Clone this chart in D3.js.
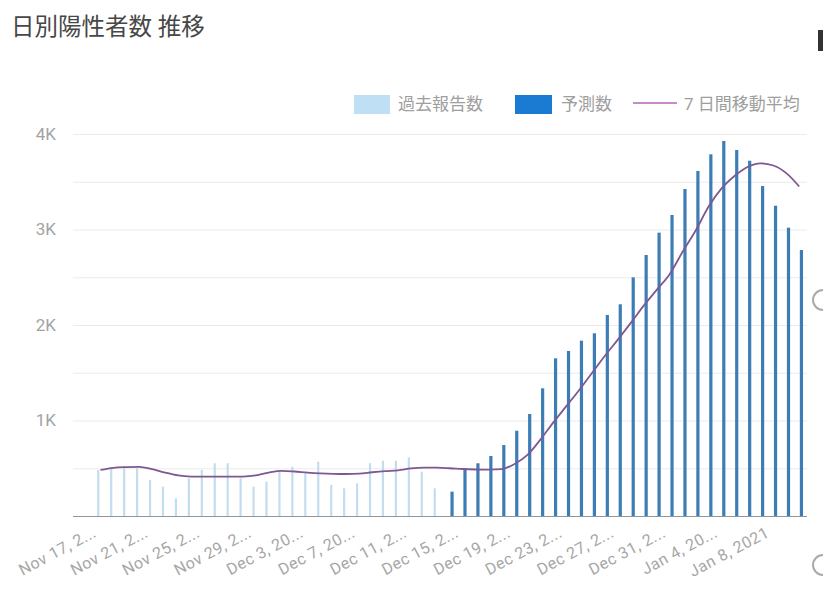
<!DOCTYPE html>
<html><head><meta charset="utf-8">
<script src="https://cdn.jsdelivr.net/npm/d3@7"></script>
<style>
html,body{margin:0;padding:0;background:#fff;}
svg{display:block;}
</style></head>
<body>
<svg id="chart" width="823" height="605"></svg>
<script>
const title = "日別陽性者数 推移";
const seriesNames = ["過去報告数", "予測数", "7 日間移動平均"];

const dates = [
  "2020-11-17","2020-11-18","2020-11-19","2020-11-20","2020-11-21","2020-11-22","2020-11-23",
  "2020-11-24","2020-11-25","2020-11-26","2020-11-27","2020-11-28","2020-11-29","2020-11-30",
  "2020-12-01","2020-12-02","2020-12-03","2020-12-04","2020-12-05","2020-12-06","2020-12-07",
  "2020-12-08","2020-12-09","2020-12-10","2020-12-11","2020-12-12","2020-12-13","2020-12-14",
  "2020-12-15","2020-12-16","2020-12-17","2020-12-18","2020-12-19","2020-12-20","2020-12-21",
  "2020-12-22","2020-12-23","2020-12-24","2020-12-25","2020-12-26","2020-12-27","2020-12-28",
  "2020-12-29","2020-12-30","2020-12-31","2021-01-01","2021-01-02","2021-01-03","2021-01-04",
  "2021-01-05","2021-01-06","2021-01-07","2021-01-08","2021-01-09","2021-01-10"
];

// 過去報告数 (Nov 17 - Dec 13)
const pastReported = [482, 500, 516, 500, 377, 307, 185, 395, 482, 552, 552, 395, 307, 360,
  482, 516, 447, 569, 325, 290, 342, 552, 579, 579, 614, 464, 290];

// 予測数 (Dec 14 - Jan 10)
const predicted = [255, 500, 552, 628, 743, 893, 1068, 1337, 1651, 1728, 1836, 1913, 2105, 2217,
  2499, 2733, 2967, 3152, 3424, 3613, 3787, 3927, 3832, 3720, 3455, 3249, 3019, 2785];

// 7 日間移動平均 (all dates)
const movingAvg = [482, 505, 512, 515, 490, 455, 425, 413, 412, 412, 412, 413, 425, 455,
  473, 466, 455, 447, 442, 440, 443, 458, 470, 478, 498, 506, 506, 500,
  492, 487, 485, 490, 545, 640, 800, 980, 1150, 1320, 1500, 1680, 1850, 2025,
  2205, 2370, 2535, 2770, 2990, 3240, 3430, 3560, 3655, 3693, 3670, 3590, 3450];

const tickDates = ["2020-11-17","2020-11-21","2020-11-25","2020-11-29","2020-12-03","2020-12-07",
  "2020-12-11","2020-12-15","2020-12-19","2020-12-23","2020-12-27","2020-12-31","2021-01-04","2021-01-08"];
const tickLabels = ["Nov 17, 2...","Nov 21, 2...","Nov 25, 2...","Nov 29, 2...","Dec 3, 20...","Dec 7, 20...",
  "Dec 11, 2...","Dec 15, 2...","Dec 19, 2...","Dec 23, 2...","Dec 27, 2...","Dec 31, 2...","Jan 4, 20...","Jan 8, 2021"];

const yTicks = [1000, 2000, 3000, 4000];
const yTickLabels = ["1K", "2K", "3K", "4K"];
const gridValues = [500, 1000, 1500, 2000, 2500, 3000, 3500, 4000];

// ---------- drawing ----------
const svg = d3.select("#chart");
const FONT = "Roboto, 'Noto Sans CJK JP', sans-serif";
const plotLeft = 73, plotRight = 807, plotTop = 134, plotBottom = 516;

const x = d3.scaleBand().domain(dates).range([94, 805.7]).paddingInner(0.32).paddingOuter(0.16);
const x1 = d3.scaleBand().domain(["past", "pred"]).range([0, x.bandwidth()]);
const y = d3.scaleLinear().domain([0, 4000]).range([plotBottom, plotTop]);

const C_PAST = "#c3ddef", C_PRED = "#3d7db5", C_LINE = "#7e5892";

svg.append("rect").attr("width", 823).attr("height", 605).attr("fill", "#fff");

// title
svg.append("text").attr("x", 11).attr("y", 35)
  .attr("font-family", FONT).attr("font-size", 23.5).attr("fill", "#474747")
  .text(title);

// grid
svg.append("g").selectAll("line").data(gridValues).join("line")
  .attr("x1", plotLeft).attr("x2", plotRight)
  .attr("y1", d => y(d) + 0.5).attr("y2", d => y(d) + 0.5)
  .attr("stroke", "#ebebeb").attr("stroke-width", 1);

// y axis labels
const yAxis = d3.axisLeft(y).tickValues(yTicks).tickFormat((d, i) => yTickLabels[i]).tickSize(0).tickPadding(0);
const yg = svg.append("g").attr("transform", `translate(56,0)`).call(yAxis);
yg.select(".domain").remove();
yg.selectAll("text").attr("font-family", FONT).attr("font-size", 17).attr("fill", "#a3a3a3");

// bars
const pastData = pastReported.map((v, i) => ({ d: dates[i], v }));
const predData = predicted.map((v, i) => ({ d: dates[pastReported.length + i], v }));

const wPast = 2.2, wPred = 3.2;
svg.append("g").selectAll("rect").data(pastData).join("rect")
  .attr("x", d => x(d.d) + x1("past") + (x1.bandwidth() - wPast) / 2)
  .attr("width", wPast)
  .attr("y", d => y(d.v))
  .attr("height", d => y(0) - y(d.v))
  .attr("fill", C_PAST);

svg.append("g").selectAll("rect").data(predData).join("rect")
  .attr("x", d => x(d.d) + x1("pred") + (x1.bandwidth() - wPred) / 2)
  .attr("width", wPred)
  .attr("y", d => y(d.v))
  .attr("height", d => y(0) - y(d.v))
  .attr("fill", C_PRED);

// baseline
svg.append("line").attr("x1", plotLeft).attr("x2", plotRight)
  .attr("y1", plotBottom + 0.5).attr("y2", plotBottom + 0.5)
  .attr("stroke", "#8f959b").attr("stroke-width", 1.2);

// moving average line
const line = d3.line()
  .x((d, i) => x(dates[i]) + x.bandwidth() / 2)
  .y(d => y(d))
  .curve(d3.curveMonotoneX);
svg.append("path").datum(movingAvg).attr("d", line)
  .attr("fill", "none").attr("stroke", C_LINE).attr("stroke-width", 1.8);

// x axis labels
const xAxis = d3.axisBottom(x).tickValues(tickDates)
  .tickFormat((d) => tickLabels[tickDates.indexOf(d)]).tickSize(0).tickPadding(0);
const xg = svg.append("g").attr("transform", `translate(0,${plotBottom})`).call(xAxis);
xg.select(".domain").remove();
xg.selectAll("text")
  .attr("font-family", FONT).attr("font-size", 16).attr("fill", "#a6a6a6")
  .attr("letter-spacing", "0.5px")
  .attr("text-anchor", "end").attr("dy", null).attr("y", 0)
  .attr("transform", "translate(-3,20) rotate(-28)");

// legend
const lg = svg.append("g").attr("font-family", FONT).attr("font-size", 17).attr("fill", "#9e9e9e");
lg.append("rect").attr("x", 354).attr("y", 95).attr("width", 36).attr("height", 19).attr("fill", "#bfdff4");
lg.append("text").attr("x", 398).attr("y", 106).attr("dominant-baseline", "middle").text(seriesNames[0]);
lg.append("rect").attr("x", 515).attr("y", 95).attr("width", 37).attr("height", 19).attr("fill", "#1b7bd3");
lg.append("text").attr("x", 561).attr("y", 106).attr("dominant-baseline", "middle").text(seriesNames[1]);
lg.append("line").attr("x1", 633).attr("x2", 677).attr("y1", 103).attr("y2", 103)
  .attr("stroke", "#c68cc8").attr("stroke-width", 2);
lg.append("text").attr("x", 684).attr("y", 106).attr("dominant-baseline", "middle").text(seriesNames[2]);

// right-edge screenshot artifacts
svg.append("rect").attr("x", 818).attr("y", 30).attr("width", 5).attr("height", 21).attr("fill", "#333");
[300, 565].forEach(cy => {
  svg.append("path")
    .attr("d", `M823,${cy - 10} A10,10 0 0 0 823,${cy + 10}`)
    .attr("fill", "none").attr("stroke", "#aaa").attr("stroke-width", 2);
});
</script>
</body></html>
